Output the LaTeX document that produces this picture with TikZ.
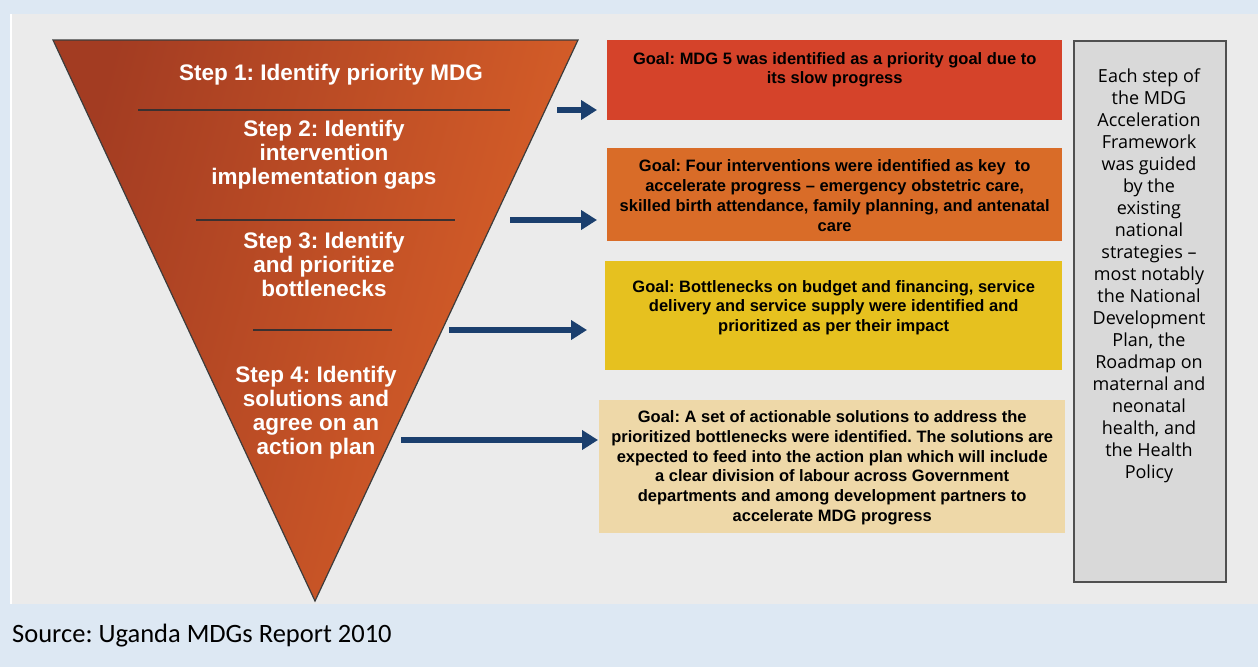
\documentclass[tikz,border=0pt]{standalone}
\usepackage{fontspec}
\setmainfont{Liberation Sans}
\newfontfamily\notefont{Open Sans}
\newfontfamily\srcfont{Carlito}
\usetikzlibrary{arrows.meta,positioning}
\frenchspacing

\definecolor{pagebg}{HTML}{DDE8F3}
\definecolor{panelbg}{HTML}{EBEBEB}
\definecolor{tridark}{HTML}{A33C22}
\definecolor{trimid}{HTML}{D65B27}
\definecolor{triorange}{HTML}{DC6229}
\definecolor{triedge}{HTML}{3C3C3C}
\definecolor{sepgray}{HTML}{3A3030}
\definecolor{arrowblue}{HTML}{1B3F6E}
\definecolor{goalred}{HTML}{D5432A}
\definecolor{goalorange}{HTML}{D96C28}
\definecolor{goalyellow}{HTML}{E6C11F}
\definecolor{goaltan}{HTML}{EED8A8}
\definecolor{notegray}{HTML}{D9D9D9}
\definecolor{noteedge}{HTML}{505050}

\begin{document}
\begin{tikzpicture}[x=1pt,y=-1pt,
  steplabel/.style={text=white,font=\fontsize{22.5}{24}\selectfont\bfseries,align=center},
  goalbox/.style={inner sep=0pt,anchor=north west},
  goaltext/.style={font=\fontsize{16.5}{19.8}\selectfont\bfseries,align=center,text=black},
  link/.style={-{Triangle[length=16pt,width=19pt]},line width=5.5pt,draw=arrowblue},
  sepline/.style={line width=2pt,draw=sepgray}]

  \useasboundingbox (0,0) rectangle (1258,667);
  \fill[pagebg] (0,0) rectangle (1258,667);
  \fill[panelbg] (10,14) rectangle (1258,604);
  \draw[white,line width=1.5pt] (10.75,14) -- (10.75,604);

  \shadedraw[top color=tridark,middle color=trimid,bottom color=triorange,shading angle=75,
    draw=triedge,line width=1.2pt] (53,40) -- (578,40) -- (315,601) -- cycle;

  \node[steplabel] (step1) at (331,75) {Step 1: Identify priority MDG};
  \node[steplabel] (step2) at (324,155) {Step 2: Identify\\intervention\\implementation gaps};
  \node[steplabel] (step3) at (324,264) {Step 3: Identify\\and prioritize\\bottlenecks};
  \node[steplabel] (step4) at (316,413) {Step 4: Identify\\solutions and\\agree on an\\action plan};

  \draw[sepline] (138,110) -- (510,110);
  \draw[sepline] (196,220) -- (455,220);
  \draw[sepline] (253,330) -- (392,330);

  \node[goalbox,fill=goalred,minimum width=455,minimum height=80] (goal1) at (607,40) {};
  \node[goalbox,fill=goalorange,minimum width=455,minimum height=93] (goal2) at (607,148) {};
  \node[goalbox,fill=goalyellow,minimum width=457,minimum height=109] (goal3) at (605,261) {};
  \node[goalbox,fill=goaltan,minimum width=466,minimum height=133] (goal4) at (599,400) {};

  \node[goaltext] (goal1txt) at ([yshift=10.5pt]goal1.center)
    {Goal: MDG 5 was identified as a priority goal due to\\its slow progress};
  \node[goaltext] (goal2txt) at ([yshift=-1pt]goal2.center)
    {Goal: Four interventions were identified as key\ \ to\\accelerate progress – emergency obstetric care,\\skilled birth attendance, family planning, and antenatal\\care};
  \node[goaltext] (goal3txt) at ([yshift=8pt]goal3.center)
    {Goal: Bottlenecks on budget and financing, service\\delivery and service supply were identified and\\prioritized as per their impact};
  \node[goaltext] (goal4txt) at ([yshift=-1pt]goal4.center)
    {Goal: A set of actionable solutions to address the\\prioritized bottlenecks were identified. The solutions are\\expected to feed into the action plan which will include\\a clear division of labour across Government\\departments and among development partners to\\accelerate MDG progress};

  \coordinate (arr1) at (557,110);
  \coordinate (arr2) at (510,220);
  \coordinate (arr3) at (449,330);
  \coordinate (arr4) at (401,440);

  \draw[link,shorten >=10pt] (arr1) -- (arr1 -| goal1.west);
  \draw[link,shorten >=10pt] (arr2) -- (arr2 -| goal2.west);
  \draw[link,shorten >=18pt] (arr3) -- (arr3 -| goal3.west);
  \draw[link,shorten >=1pt] (arr4) -- (arr4 -| goal4.west);

  \node[goalbox,fill=notegray,draw=noteedge,line width=2pt,
    minimum width=152,minimum height=541] (note) at (1073,40) {};
  \node[font=\notefont\fontsize{18}{22}\selectfont,align=center] (notetxt) at (1149,276)
    {Each step of\\the MDG\\Acceleration\\Framework\\was guided\\by the\\existing\\national\\strategies –\\most notably\\the National\\Development\\Plan, the\\Roadmap on\\maternal and\\neonatal\\health, and\\the Health\\Policy};

  \node[anchor=west,inner sep=0pt,font=\srcfont\fontsize{26.5}{30}\selectfont] (source) at (12,636)
    {Source: Uganda MDGs Report 2010};
\end{tikzpicture}
\end{document}
